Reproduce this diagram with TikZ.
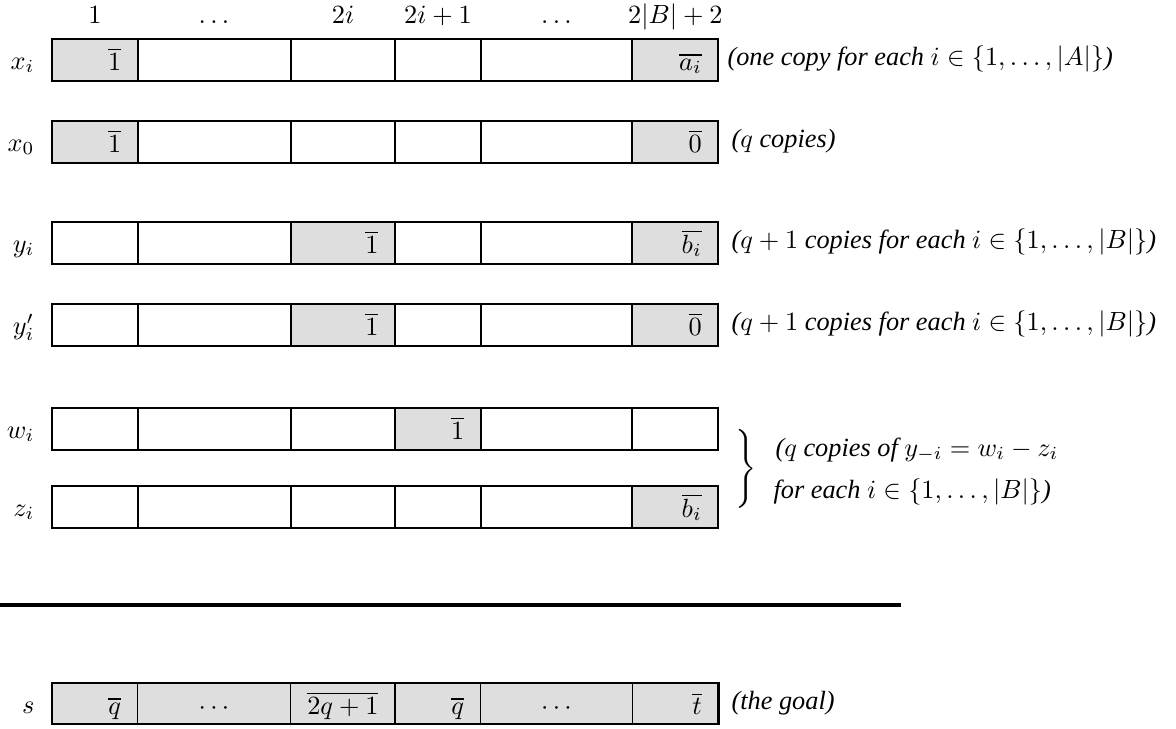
\documentclass[tikz,border=0pt]{standalone}
\usepackage{fontspec}
\newfontfamily\tms{Liberation Serif}
\definecolor{cellgray}{RGB}{222,222,222}
\tikzset{
  cellline/.style={draw=black, line width=0.85pt},
  thinline/.style={draw=black, line width=0.4pt},
  celltxt/.style={anchor=base east, inner sep=0pt},
  rowlbl/.style={anchor=base east, inner sep=0pt},
  hdr/.style={anchor=base, inner sep=0pt},
  note/.style={anchor=base west, inner sep=0pt, font=\tms\itshape},
}
% \cellbox{x1}{x2}{top}{fill}
\newcommand\cellbox[4]{\filldraw[fill=#4, cellline] (#1,#3) rectangle (#2,#3+42);}
\begin{document}
\begin{tikzpicture}[x=0.38pt, y=-0.38pt]
\useasboundingbox (0,0) rectangle (1176,729);

% header
\node[hdr] (h1) at (95,23) {$1$};
\node[hdr] (h2) at (214,23) {$\dots$};
\node[hdr] (h3) at (343,23) {$2i$};
\node[hdr] (h4) at (438,23) {$2i+1$};
\node[hdr] (h5) at (556.5,23) {$\dots$};
\node[hdr] (h6) at (675.3,23) {$2|B|+2$};

% ---- row x_i (top 39)
\node[rowlbl] (lxi) at (35,69) {$x_i$};
\cellbox{52}{137.7}{39}{cellgray}
\cellbox{137.7}{290.7}{39}{white}
\cellbox{290.7}{395}{39}{white}
\cellbox{395}{480.7}{39}{white}
\cellbox{480.7}{632.3}{39}{white}
\cellbox{632.3}{718.3}{39}{cellgray}
\node[celltxt] (xi1) at (137.7-16,39+31) {$\overline{1}$};
\node[celltxt] (xi6) at (718.3-16,39+31) {$\overline{a_i}$};
\node[note] (nxi) at (727,39+26) {(one copy for each $i\in\{1,\dots,|A|\}$)};

% ---- row x_0 (top 121)
\node[rowlbl] (lx0) at (35,121+30) {$x_0$};
\cellbox{52}{137.7}{121}{cellgray}
\cellbox{137.7}{290.7}{121}{white}
\cellbox{290.7}{395}{121}{white}
\cellbox{395}{480.7}{121}{white}
\cellbox{480.7}{632.3}{121}{white}
\cellbox{632.3}{718.3}{121}{cellgray}
\node[celltxt] (x01) at (137.7-16,121+31) {$\overline{1}$};
\node[celltxt] (x06) at (718.3-16,121+31) {$\overline{0}$};
\node[note] (nx0) at (731,121+26) {($q$ copies)};

% ---- row y_i (top 222)
\node[rowlbl] (lyi) at (35,222+30) {$y_i$};
\cellbox{52}{137.7}{222}{white}
\cellbox{137.7}{290.7}{222}{white}
\cellbox{290.7}{395}{222}{cellgray}
\cellbox{395}{480.7}{222}{white}
\cellbox{480.7}{632.3}{222}{white}
\cellbox{632.3}{718.3}{222}{cellgray}
\node[celltxt] (yi3) at (395-16,222+31) {$\overline{1}$};
\node[celltxt] (yi6) at (718.3-16,222+31) {$\overline{b_i}$};
\node[note] (nyi) at (731,222+26) {($q+1$ copies for each $i\in\{1,\dots,|B|\}$)};

% ---- row y'_i (top 304)
\node[rowlbl] (lypi) at (35,304+30) {$y'_i$};
\cellbox{52}{137.7}{304}{white}
\cellbox{137.7}{290.7}{304}{white}
\cellbox{290.7}{395}{304}{cellgray}
\cellbox{395}{480.7}{304}{white}
\cellbox{480.7}{632.3}{304}{white}
\cellbox{632.3}{718.3}{304}{cellgray}
\node[celltxt] (ypi3) at (395-16,304+31) {$\overline{1}$};
\node[celltxt] (ypi6) at (718.3-16,304+31) {$\overline{0}$};
\node[note] (nypi) at (731,304+26) {($q+1$ copies for each $i\in\{1,\dots,|B|\}$)};

% ---- row w_i (top 408)
\node[rowlbl] (lwi) at (35,408+30) {$w_i$};
\cellbox{52}{137.7}{408}{white}
\cellbox{137.7}{290.7}{408}{white}
\cellbox{290.7}{395}{408}{white}
\cellbox{395}{480.7}{408}{cellgray}
\cellbox{480.7}{632.3}{408}{white}
\cellbox{632.3}{718.3}{408}{white}
\node[celltxt] (wi4) at (480.7-16,408+31) {$\overline{1}$};

% ---- row z_i (top 486)
\node[rowlbl] (lzi) at (35,486+30) {$z_i$};
\cellbox{52}{137.7}{486}{white}
\cellbox{137.7}{290.7}{486}{white}
\cellbox{290.7}{395}{486}{white}
\cellbox{395}{480.7}{486}{white}
\cellbox{480.7}{632.3}{486}{white}
\cellbox{632.3}{718.3}{486}{cellgray}
\node[celltxt] (zi6) at (718.3-16,486+31) {$\overline{b_i}$};

% brace and note for w_i, z_i
\node[inner sep=0pt] (br) at (745,468.5) {$\left.\vrule height 17.5pt depth 12.5pt width 0pt\right\}$};
\node[note] (nwz1) at (775,456) {($q$ copies of $y_{-i}=w_i-z_i$};
\node[note] (nwz2) at (773,498) {for each $i\in\{1,\dots,|B|\}$)};

% separating line
\coordinate (sepL) at (0,605);
\coordinate (sepR) at (901,605);
\draw[line width=1.15pt] (sepL) -- (sepR);

% ---- row s (top 683)
\node[rowlbl] (ls) at (35,683+30) {$s$};
\foreach \a/\b in {52/137.7,137.7/290.7,290.7/395,395/480.7,480.7/632.3,632.3/718.3}{
  \filldraw[fill=cellgray, thinline] (\a,683) rectangle (\b,724);
}
\draw[line width=1pt, line cap=rect] (52,724) -- (718.3,724) -- (718.3,683);
\node[celltxt] (s1) at (137.7-16,683+31) {$\overline{q}$};
\node[hdr] (s2) at (214,683+31) {$\cdots$};
\node[celltxt] (s3) at (395-16,683+31) {$\overline{2q+1}$};
\node[celltxt] (s4) at (480.7-16,683+31) {$\overline{q}$};
\node[hdr] (s5) at (556.5,683+31) {$\cdots$};
\node[celltxt] (s6) at (718.3-16,683+31) {$\overline{t}$};
\node[note] (ns) at (731,683+26) {(the goal)};
\end{tikzpicture}
\end{document}
